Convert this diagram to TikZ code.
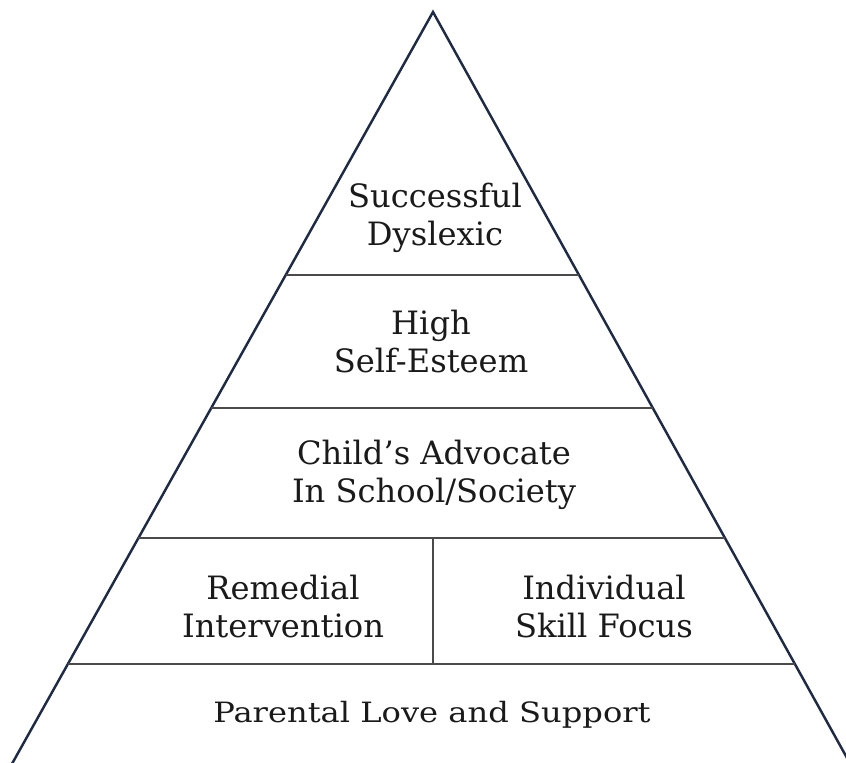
\documentclass[tikz,border=0pt]{standalone}
\usepackage{fontspec}
\setmainfont{DejaVu Serif}
\usetikzlibrary{calc}
\definecolor{edgeblue}{HTML}{1F2A44}
\definecolor{tiergray}{HTML}{4A4A4A}
\definecolor{inkdark}{HTML}{1A1A1A}
\begin{document}
\begin{tikzpicture}[x=0.02cm,y=-0.02cm,
  sideedge/.style={draw=edgeblue,line width=1.4pt,line join=miter},
  tierline/.style={draw=tiergray,line width=0.8pt},
  tiertext/.style={inner sep=0pt,align=center,text=inkdark,anchor=base,
    font=\fontsize{18.3}{21.6}\selectfont}]
  \path[use as bounding box] (0,0) rectangle (846,762);
  \clip (0,0) rectangle (846,762);

  % outline of the pyramid
  \coordinate (apex) at (433,12);
  \coordinate (bl) at (4.6,777);
  \coordinate (br) at (857.6,777);
  \draw[sideedge] (bl) -- (apex) -- (br);

  % tier boundaries on the two sides
  \coordinate (l1) at ($(apex)!0.3438!(bl)$);
  \coordinate (r1) at ($(apex)!0.3438!(br)$);
  \coordinate (l2) at ($(apex)!0.5176!(bl)$);
  \coordinate (r2) at ($(apex)!0.5176!(br)$);
  \coordinate (l3) at ($(apex)!0.6876!(bl)$);
  \coordinate (r3) at ($(apex)!0.6876!(br)$);
  \coordinate (l4) at ($(apex)!0.8523!(bl)$);
  \coordinate (r4) at ($(apex)!0.8523!(br)$);
  \draw[tierline] (l1) -- (r1);
  \draw[tierline] (l2) -- (r2);
  \draw[tierline] (l3) -- (r3);
  \draw[tierline] (l4) -- (r4);

  % split of the fourth tier
  \coordinate (dtop) at (433,538);
  \coordinate (dbot) at (433,664);
  \draw[tierline] (dtop) -- (dbot);

  % tier texts (anchored on the baseline of the last line)
  \node[tiertext] (top) at (435,245) {Successful\\Dyslexic};
  \node[tiertext] (esteem) at (431,372) {High\\Self-Esteem};
  \node[tiertext] (advocate) at (434,502) {Child’s Advocate\\In School/Society};
  \node[tiertext] (remedial) at (283,637) {Remedial\\Intervention};
  \node[tiertext] (skill) at (604,637) {Individual\\Skill Focus};
  \node[tiertext] (base) at (432,722) {\scalebox{1}[0.87]{Parental Love and Support}};
\end{tikzpicture}
\end{document}
